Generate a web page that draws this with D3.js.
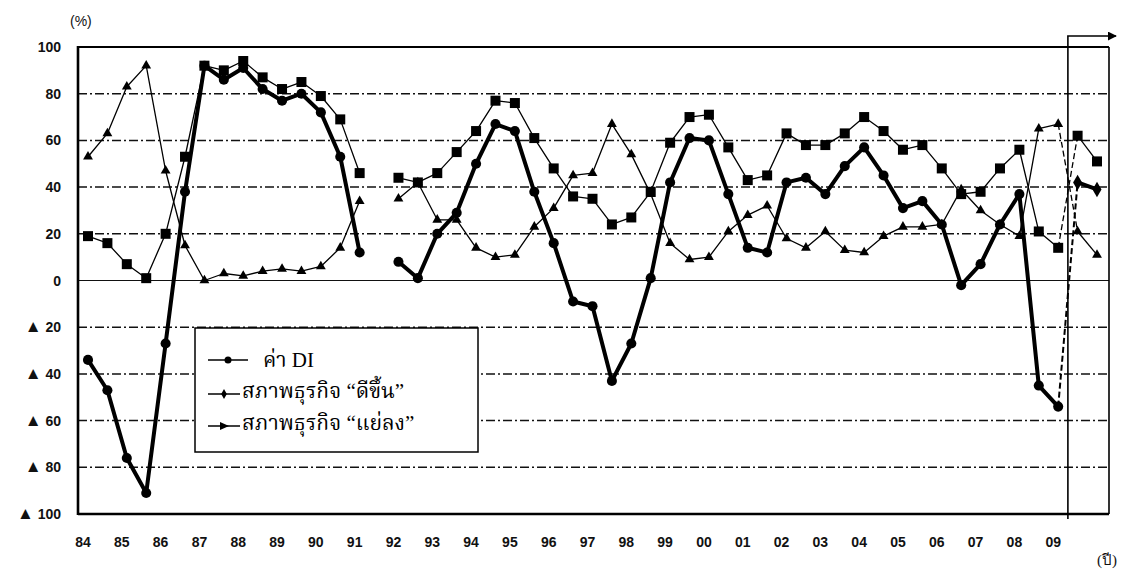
<!DOCTYPE html>
<html lang="th">
<head>
    <meta charset="UTF-8">
    <title>DI</title>
    <script src="https://d3js.org/d3.v7.min.js"></script>
</head>
<body>
<svg id="chart"></svg>
</body>

<style>
    body { margin: 0; background: #fff; }
    svg { display: block; }
    .tick-label {
        font-family: "Liberation Sans", Arial, sans-serif;
        font-size: 14px;
        font-weight: bold;
        fill: #111;
    }
    .legend-text {
        font-family: "Liberation Serif", "Noto Serif Thai", serif;
        font-size: 21px;
        fill: #000;
    }
    .grid {
        stroke: #111;
        stroke-width: 1.5px;
        stroke-dasharray: 9 3 2 3;
    }
</style>

<script>
    // half-year periods, 84 first half .. 10 first half
    const years = ['84', '85', '86', '87', '88', '89', '90', '91', '92', '93', '94', '95', '96',
        '97', '98', '99', '00', '01', '02', '03', '04', '05', '06', '07', '08', '09'];
    const periods = years.flatMap(y => [y + '/1', y + '/2']).concat(['10/1']);

    // ค่า DI
    const diValues = [-34, -47, -76, -91, -27, 38, 92, 86, 91, 82, 77, 80, 72, 53, 12, null,
        8, 1, 20, 29, 50, 67, 64, 38, 16, -9, -11, -43, -27, 1, 42, 61, 60, 37,
        14, 12, 42, 44, 37, 49, 57, 45, 31, 34, 24, -2, 7, 24, 37, -45, -54, 42, 39];
    // สภาพธุรกิจ "ดีขึ้น"
    const betterValues = [19, 16, 7, 1, 20, 53, 92, 90, 94, 87, 82, 85, 79, 69, 46, null,
        44, 42, 46, 55, 64, 77, 76, 61, 48, 36, 35, 24, 27, 38, 59, 70, 71, 57,
        43, 45, 63, 58, 58, 63, 70, 64, 56, 58, 48, 37, 38, 48, 56, 21, 14, 62, 51];
    // สภาพธุรกิจ "แย่ลง"
    const worseValues = [53, 63, 83, 92, 47, 15, 0, 3, 2, 4, 5, 4, 6, 14, 34, null,
        35, 42, 26, 26, 14, 10, 11, 23, 31, 45, 46, 67, 54, 37, 16, 9, 10, 21,
        28, 32, 18, 14, 21, 13, 12, 19, 23, 23, 24, 39, 30, 24, 19, 65, 67, 21, 11];

    const yTicks = [100, 80, 60, 40, 20, 0, -20, -40, -60, -80, -100];
    const forecastFrom = '09/2';   // first forecast period

    const width = 1123, height = 574;
    const plot = {left: 78, right: 1109, top: 47, bottom: 514};

    const svg = d3.select('#chart')
        .attr('width', width)
        .attr('height', height);

    const x = d3.scalePoint()
        .domain(periods)
        .range([88, 1097]);

    const y = d3.scaleLinear()
        .domain([-100, 100])
        .range([plot.bottom, plot.top]);

    // grid lines
    svg.append('g')
        .selectAll('line')
        .data(yTicks.filter(v => v !== 0 && Math.abs(v) !== 100))
        .join('line')
        .attr('class', 'grid')
        .attr('x1', plot.left)
        .attr('x2', plot.right)
        .attr('y1', d => y(d))
        .attr('y2', d => y(d));

    svg.append('line')
        .attr('x1', plot.left).attr('x2', plot.right)
        .attr('y1', y(0)).attr('y2', y(0))
        .attr('stroke', '#111').attr('stroke-width', 1.2);

    // frame
    const frame = svg.append('g').attr('stroke', '#000').attr('fill', 'none');
    frame.append('line').attr('x1', plot.left).attr('x2', plot.left)
        .attr('y1', plot.top - 1).attr('y2', plot.bottom + 1).attr('stroke-width', 2.6);
    frame.append('line').attr('x1', plot.left).attr('x2', plot.right)
        .attr('y1', plot.top).attr('y2', plot.top).attr('stroke-width', 2);
    frame.append('line').attr('x1', plot.left).attr('x2', plot.right)
        .attr('y1', plot.bottom).attr('y2', plot.bottom).attr('stroke-width', 2.6);
    frame.append('line').attr('x1', plot.right).attr('x2', plot.right)
        .attr('y1', plot.top).attr('y2', plot.bottom).attr('stroke-width', 1.6);

    // y tick labels
    const yLab = svg.append('g')
        .selectAll('text')
        .data(yTicks)
        .join('text')
        .attr('class', 'tick-label')
        .attr('x', 61)
        .attr('y', d => y(d) + 5)
        .attr('text-anchor', 'end');
    yLab.filter(d => d < 0).append('tspan')
        .style('font-size', '17px')
        .text('\u25B2');
    yLab.append('tspan')
        .text(d => (d < 0 ? ' ' : '') + Math.abs(d));

    svg.append('text')
        .attr('class', 'tick-label')
        .attr('x', 70).attr('y', 26)
        .style('font-weight', 'normal')
        .text('(%)');

    // x tick labels (one per year, on the first half)
    svg.append('g')
        .selectAll('text')
        .data(years)
        .join('text')
        .attr('class', 'tick-label')
        .attr('x', d => x(d + '/1') - 5)
        .attr('y', 547)
        .attr('text-anchor', 'middle')
        .text(d => d);

    svg.append('text')
        .attr('class', 'tick-label')
        .attr('x', 1107).attr('y', 565)
        .attr('text-anchor', 'middle')
        .style('font-weight', 'normal')
        .style('font-family', '"Liberation Serif", serif')
        .style('font-size', '15px')
        .text('(ปี)');

    // series
    const fIdx = periods.indexOf(forecastFrom);
    function rows(values) {
        return periods.map((p, i) => ({p, v: values[i], i}));
    }
    const line = d3.line()
        .defined(d => d.v !== null)
        .x(d => x(d.p))
        .y(d => y(d.v));

    function drawSeries(values, strokeWidth) {
        const r = rows(values);
        const g = svg.append('g').attr('fill', 'none').attr('stroke', '#000')
            .attr('stroke-width', strokeWidth).attr('stroke-linejoin', 'round');
        g.append('path').attr('d', line(r.slice(0, fIdx)));
        g.append('path').attr('d', line(r.slice(fIdx - 1, fIdx + 1)))
            .attr('stroke-width', Math.min(strokeWidth, 2))
            .attr('stroke-dasharray', '6 3');
        g.append('path').attr('d', line(r.slice(fIdx)));
        return r.filter(d => d.v !== null);
    }

    const worseRows = drawSeries(worseValues, 1.3);
    const betterRows = drawSeries(betterValues, 1.3);
    const diRows = drawSeries(diValues, 4);

    svg.append('g')
        .selectAll('path')
        .data(worseRows)
        .join('path')
        .attr('transform', d => `translate(${x(d.p)},${y(d.v)})`)
        .attr('d', d3.symbol(d3.symbolTriangle, 42))
        .attr('fill', '#000');

    svg.append('g')
        .selectAll('rect')
        .data(betterRows)
        .join('rect')
        .attr('x', d => x(d.p) - 5)
        .attr('y', d => y(d.v) - 5)
        .attr('width', 10)
        .attr('height', 10)
        .attr('fill', '#000');

    svg.append('g')
        .selectAll('path')
        .data(diRows)
        .join('path')
        .attr('transform', d => `translate(${x(d.p)},${y(d.v)})`)
        .attr('d', d => d.i >= fIdx ? d3.symbol(d3.symbolDiamond, 70)() : d3.symbol(d3.symbolCircle, 80)())
        .attr('fill', '#000');

    // forecast marker: vertical line with arrow
    const splitX = (x(periods[fIdx - 1]) + x(periods[fIdx])) / 2;
    svg.append('defs').append('marker')
        .attr('id', 'arrow')
        .attr('viewBox', '0 0 10 10')
        .attr('refX', 9).attr('refY', 5)
        .attr('markerWidth', 9).attr('markerHeight', 9)
        .attr('markerUnits', 'userSpaceOnUse')
        .attr('orient', 'auto')
        .append('path').attr('d', 'M0,0 L10,5 L0,10 Z').attr('fill', '#000');
    svg.append('path')
        .attr('d', `M${splitX},${plot.bottom + 5} V36 H1116`)
        .attr('fill', 'none')
        .attr('stroke', '#000')
        .attr('stroke-width', 1.6)
        .attr('marker-end', 'url(#arrow)');

    // legend
    const legend = svg.append('g');
    legend.append('rect')
        .attr('x', 195).attr('y', 328)
        .attr('width', 283).attr('height', 124)
        .attr('fill', '#fff').attr('stroke', '#000').attr('stroke-width', 1.5);

    const legendItems = [
        {label: 'ค่า DI', y: 360, x1: 208, x2: 248, tx: 263, mark: 'circle'},
        {label: 'สภาพธุรกิจ “ดีขึ้น”', y: 394, x1: 208, x2: 240, tx: 242, mark: 'diamond'},
        {label: 'สภาพธุรกิจ “แย่ลง”', y: 426, x1: 208, x2: 240, tx: 242, mark: 'arrow'}
    ];
    legendItems.forEach(it => {
        legend.append('line')
            .attr('x1', it.x1).attr('x2', it.x2)
            .attr('y1', it.y).attr('y2', it.y)
            .attr('stroke', '#000').attr('stroke-width', 1.5);
        const mx = (it.x1 + it.x2) / 2;
        if (it.mark === 'circle') {
            legend.append('circle').attr('cx', mx).attr('cy', it.y).attr('r', 3.5);
        } else if (it.mark === 'diamond') {
            legend.append('path').attr('transform', `translate(${mx},${it.y})`)
                .attr('d', d3.symbol(d3.symbolDiamond, 28));
        } else {
            legend.append('path')
                .attr('d', `M${mx - 4},${it.y - 4} L${mx + 5},${it.y} L${mx - 4},${it.y + 4} Z`);
        }
        legend.append('text')
            .attr('class', 'legend-text')
            .attr('x', it.tx)
            .attr('y', it.y + (it.mark === 'circle' ? 7 : 4))
            .text(it.label);
    });
</script>
</html>
